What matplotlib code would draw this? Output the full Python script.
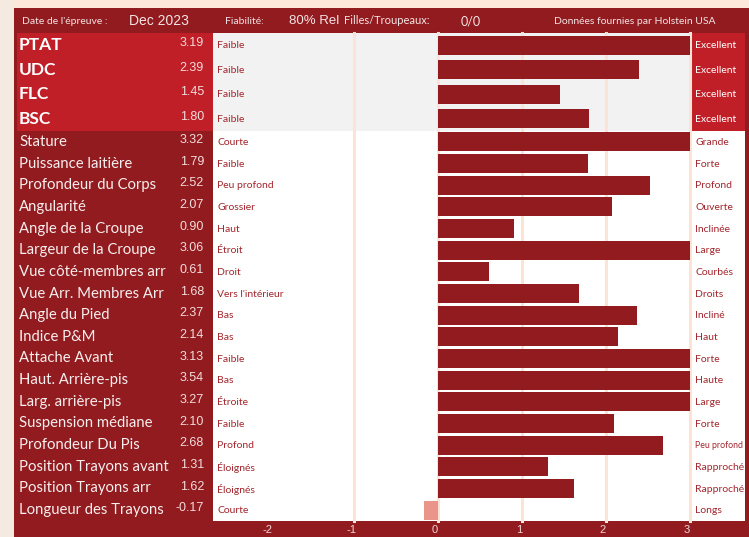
import matplotlib.pyplot as plt
import matplotlib.transforms as mtransforms
from matplotlib.patches import Rectangle
import numpy as np

# ---- data ----
index_names = ["PTAT", "UDC", "FLC", "BSC"]
index_values = [3.19, 2.39, 1.45, 1.80]
index_low = ["Faible", "Faible", "Faible", "Faible"]
index_high = ["Excellent", "Excellent", "Excellent", "Excellent"]

trait_names = ["Stature", "Puissance laitière", "Profondeur du Corps", "Angularité",
               "Angle de la Croupe", "Largeur de la Croupe", "Vue côté-membres arr",
               "Vue Arr. Membres Arr", "Angle du Pied", "Indice P&M", "Attache Avant",
               "Haut. Arrière-pis", "Larg. arrière-pis", "Suspension médiane",
               "Profondeur Du Pis", "Position Trayons avant", "Position Trayons arr",
               "Longueur des Trayons"]
trait_values = [3.32, 1.79, 2.52, 2.07, 0.90, 3.06, 0.61, 1.68, 2.37, 2.14, 3.13,
                3.54, 3.27, 2.10, 2.68, 1.31, 1.62, -0.17]
trait_low = ["Courte", "Faible", "Peu profond", "Grossier", "Haut", "Étroit", "Droit",
             "Vers l'intérieur", "Bas", "Bas", "Faible", "Bas", "Étroite", "Faible",
             "Profond", "Éloignés", "Éloignés", "Courte"]
trait_high = ["Grande", "Forte", "Profond", "Ouverte", "Inclinée", "Large", "Courbés",
              "Droits", "Incliné", "Haut", "Forte", "Haute", "Large", "Forte",
              "Peu profond", "Rapproché", "Rapproché", "Longs"]

ticks = [-2, -1, 0, 1, 2, 3]

header = [("Date de l'épreuve :", 22, "Lato", 7.5),
          ("Dec 2023", 129, "Liberation Sans", 10),
          ("Fiabilité:", 225, "Lato", 7.5),
          ("80% Rel", 289, "Liberation Sans", 9.5),
          ("Filles/Troupeaux:", 344, "Lato", 8),
          ("0/0", 461, "Lato", 9),
          ("Données fournies par Holstein USA", 554, "Lato", 7.5)]

# ---- colours ----
DARK = "#911b1f"
BRIGHT = "#c11f27"
DESC = "#a3262d"
GRID = "#fde2d5"
GRAY = "#f2f2f2"
NEG = "#e9958a"
PAGE = "#f4eadf"
STRIP = "#fde6da"

W, H = 749, 537
fig = plt.figure(figsize=(W / 100, H / 100), dpi=100)
fig.patch.set_facecolor(PAGE)

# background axes in pixel coords
bg = fig.add_axes([0, 0, 1, 1])
bg.set_xlim(0, W)
bg.set_ylim(H, 0)
bg.axis("off")

L, X0, X1, R = 14, 213, 690, 745
TOP, HEAD, MID, BOT = 8, 33, 131, 521

bg.add_patch(Rectangle((L, 0), W - L, TOP, color=STRIP, lw=0))
bg.add_patch(Rectangle((L, TOP), W - L, H - TOP, color=DARK, lw=0))
bg.add_patch(Rectangle((L + 3, HEAD), X0 - L - 3, MID - HEAD, color=BRIGHT, lw=0))
bg.add_patch(Rectangle((X1, HEAD), R - X1, MID - HEAD, color=BRIGHT, lw=0))
bg.add_patch(Rectangle((X1, MID), R - X1, BOT - MID, color="white", lw=0))

for txt, x, fam, size in header:
    bg.text(x, 21, txt, family=fam, fontsize=size, color="#f5e4e4",
            ha="left", va="center")


def make_panel(y_top, y_bot, names, values, low, high, face, big):
    n = len(names)
    ax = fig.add_axes([X0 / W, 1 - y_bot / H, (X1 - X0) / W, (y_bot - y_top) / H])
    ax.set_facecolor(face)
    ax.set_xlim(-2.68, 3)
    ax.set_ylim(n - 0.5, -0.5)
    for s in ax.spines.values():
        s.set_visible(False)
    ax.set_yticks([])
    for g in ticks[1:]:
        ax.axvline(g, color=GRID, lw=2.2, zorder=1, clip_on=False)
    # descriptor column hides the -2 gridline
    ax.add_patch(Rectangle((0, 0), 138 / (X1 - X0), 1, transform=ax.transAxes,
                           color=face, lw=0, zorder=0.5))
    y = np.arange(n)
    vals = np.array(values)
    colors = [DARK if v >= 0 else NEG for v in vals]
    ax.barh(y, vals, height=0.87 if not big else 0.78, color=colors, zorder=2)

    tr = mtransforms.blended_transform_factory(bg.transData, ax.transData)
    for i in range(n):
        if big:
            fig.text(19, i, names[i], transform=tr, family="Lato", weight="bold",
                     fontsize=12.5, color="white", ha="left", va="center")
        else:
            fig.text(19, i, names[i], transform=tr, family="Lato",
                     fontsize=10.7, color="#f7eeee", ha="left", va="center")
        fig.text(204, i - 0.08, f"{values[i]:.2f}", transform=tr, family="Liberation Sans",
                 fontsize=9, color="#f3dcdc", ha="right", va="center")
        fig.text(217, i + 0.03, low[i], transform=tr, family="Lato",
                 fontsize=7.5, color=DESC, ha="left", va="center")
        fig.text(695, i + 0.03, high[i], transform=tr, family="Lato",
                 fontsize=6.3 if len(high[i]) > 10 else 7.5,
                 color="white" if big else DESC, ha="left", va="center")
    return ax


ax_top = make_panel(HEAD, MID, index_names, index_values, index_low, index_high, GRAY, True)
ax_top.set_xticks([])
ax_bot = make_panel(MID, BOT, trait_names, trait_values, trait_low, trait_high, "white", False)
ax_bot.set_xticks(ticks)
ax_bot.set_xticklabels([str(t) for t in ticks], family="Liberation Sans")
ax_bot.tick_params(axis="x", length=0, pad=3, labelsize=8, labelcolor="#f3d6d6")
shift = mtransforms.ScaledTranslation(-3 / 100, 0, fig.dpi_scale_trans)
for lab in ax_bot.get_xticklabels():
    lab.set_transform(lab.get_transform() + shift)

fig.savefig("out.png", dpi=100, facecolor=fig.get_facecolor())
